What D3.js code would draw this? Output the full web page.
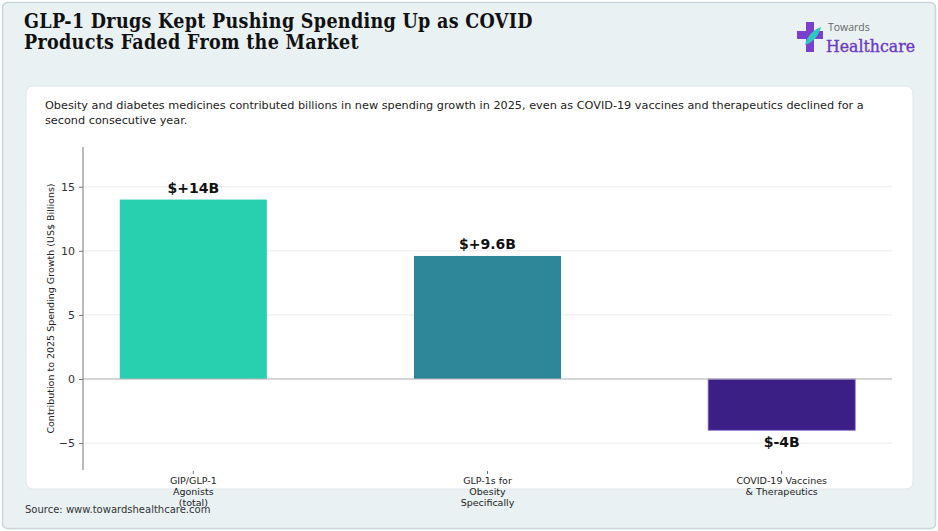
<!DOCTYPE html>
<html>
<head>
<meta charset="utf-8">
<script src="https://cdn.jsdelivr.net/npm/d3@7"></script>
<style>
html,body{margin:0;padding:0;background:#fff;}
svg{display:block;}
</style>
</head>
<body>
<svg id="chart" width="938" height="531"></svg>
<script>
// ---- data ----
const categories = [
  ["GIP/GLP-1", "Agonists", "(total)"],
  ["GLP-1s for", "Obesity", "Specifically"],
  ["COVID-19 Vaccines", "& Therapeutics"]
];
const values = [14, 9.6, -4];
const valueLabels = ["$+14B", "$+9.6B", "$-4B"];
const barColors = ["#28d0b0", "#2e8799", "#3b1f85"];
const yTicks = [-5, 0, 5, 10, 15];

const titleLines = ["GLP-1 Drugs Kept Pushing Spending Up as COVID", "Products Faded From the Market"];
const subtitleLines = ["Obesity and diabetes medicines contributed billions in new spending growth in 2025, even as COVID-19 vaccines and therapeutics declined for a", "second consecutive year."];
const yAxisTitle = "Contribution to 2025 Spending Growth (US$ Billions)";
const sourceText = "Source: www.towardshealthcare.com";

(function () {
const svg = d3.select("#chart");
const W = 938, H = 531;

svg.append("rect").attr("x", 0).attr("y", 0).attr("width", W).attr("height", H).attr("fill", "#ffffff");
svg.append("rect").attr("x", 2.5).attr("y", 2.5).attr("width", W - 5).attr("height", H - 5)
  .attr("rx", 5).attr("fill", "#e9f1f3").attr("stroke", "#c9d6da").attr("stroke-width", 1.5);

// title
const title = svg.append("text").attr("x", 24).attr("y", 28)
  .attr("font-family", "'DejaVu Serif Condensed','DejaVu Serif',serif")
  .attr("font-stretch", "condensed")
  .attr("font-weight", "bold").attr("font-size", 19.5).attr("letter-spacing", 0.3).attr("fill", "#111");
titleLines.forEach((t, i) => title.append("tspan").attr("x", 24).attr("dy", i === 0 ? 0 : 21).text(t));

// logo
const logo = svg.append("g").attr("transform", "translate(797,22)");
logo.append("path").attr("d", "M9,0 h8 v9 h9 v8 h-9 v13 h-8 v-13 h-9 v-8 h9 z").attr("fill", "#7b3fd0");
logo.append("path").attr("d", "M8,23 C10,14 16,8 24,5 C22,13 17,20 8,23 Z").attr("fill", "#2ec8c0");
svg.append("text").attr("x", 828).attr("y", 31).attr("font-family", "'Open Sans',sans-serif")
  .attr("font-size", 10.5).attr("fill", "#666").text("Towards");
svg.append("text").attr("x", 826).attr("y", 52).attr("font-family", "'DejaVu Serif Condensed','DejaVu Serif',serif")
  .attr("font-stretch", "condensed").attr("font-size", 17.5).attr("fill", "#6e3cc4")
  .attr("stroke", "#6e3cc4").attr("stroke-width", 0.4).text("Healthcare");

// card
svg.append("rect").attr("x", 26).attr("y", 86).attr("width", 887).attr("height", 403)
  .attr("rx", 7).attr("fill", "#ffffff").attr("stroke", "#dfe7ea").attr("stroke-width", 1);

// subtitle
const sub = svg.append("text").attr("x", 45).attr("y", 109)
  .attr("font-family", "'DejaVu Sans',sans-serif").attr("font-size", 11.25).attr("fill", "#222");
subtitleLines.forEach((t, i) => sub.append("tspan").attr("x", 45).attr("dy", i === 0 ? 0 : 15).text(t));

// plot
const pL = 83, pR = 892, pT = 147, pB = 470;
const y = d3.scaleLinear().domain([-7.1, 18.1]).range([pB, pT]);
const x = d3.scaleLinear().domain([-0.375, 2.375]).range([pL, pR]);
const barW = 0.5;

const g = svg.append("g");
g.selectAll("line.grid").data(yTicks).enter().append("line")
  .attr("x1", pL).attr("x2", pR).attr("y1", d => y(d)).attr("y2", d => y(d))
  .attr("stroke", "#ebebeb").attr("stroke-width", 1);

g.selectAll("rect.bar").data(values).enter().append("rect")
  .attr("x", (d, i) => x(i - barW / 2)).attr("width", (d, i) => x(barW) - x(0))
  .attr("y", d => y(Math.max(0, d))).attr("height", d => Math.abs(y(d) - y(0)))
  .attr("fill", (d, i) => barColors[i])
  .attr("stroke", (d, i) => i === 2 ? "#8a6fd6" : "none").attr("stroke-width", 0.8);

g.append("line").attr("x1", pL).attr("x2", pR).attr("y1", y(0)).attr("y2", y(0))
  .attr("stroke", "#b5b5b5").attr("stroke-width", 1.2);

g.selectAll("text.val").data(values).enter().append("text")
  .attr("x", (d, i) => x(i)).attr("y", d => d >= 0 ? y(d) - 7 : y(d) + 17)
  .attr("text-anchor", "middle").attr("font-family", "'DejaVu Sans',sans-serif")
  .attr("font-weight", "bold").attr("font-size", 14).attr("fill", "#111")
  .text((d, i) => valueLabels[i]);

const yAxis = d3.axisLeft(y).tickValues(yTicks).tickSize(4).tickPadding(4)
  .tickFormat(d => d < 0 ? "\u2212" + Math.abs(d) : d);
const ya = svg.append("g").attr("transform", `translate(${pL},0)`).call(yAxis);
ya.select(".domain").attr("stroke", "#777").attr("d", `M0,${pT}V${pB}`);
ya.selectAll(".tick line").attr("stroke", "#777");
ya.selectAll(".tick text").attr("font-family", "'DejaVu Sans',sans-serif").attr("font-size", 11).attr("fill", "#333");

const xa = svg.append("g");
categories.forEach((lines, i) => {
  xa.append("line").attr("x1", x(i)).attr("x2", x(i)).attr("y1", pB + 1).attr("y2", pB + 4)
    .attr("stroke", "#777");
  const t = xa.append("text").attr("x", x(i)).attr("y", pB + 14).attr("text-anchor", "middle")
    .attr("font-family", "'DejaVu Sans',sans-serif").attr("font-size", 9.5).attr("fill", "#222");
  lines.forEach((l, j) => t.append("tspan").attr("x", x(i)).attr("dy", j === 0 ? 0 : 11).text(l));
});

svg.append("text").attr("transform", `translate(54,${(pT + pB) / 2}) rotate(-90)`)
  .attr("text-anchor", "middle").attr("font-family", "'DejaVu Sans',sans-serif")
  .attr("font-size", 9.5).attr("fill", "#222").text(yAxisTitle);

svg.append("text").attr("x", 25).attr("y", 513).attr("font-family", "'DejaVu Sans',sans-serif")
  .attr("font-size", 10).attr("fill", "#333").text(sourceText);
})();
</script>
</body>
</html>
